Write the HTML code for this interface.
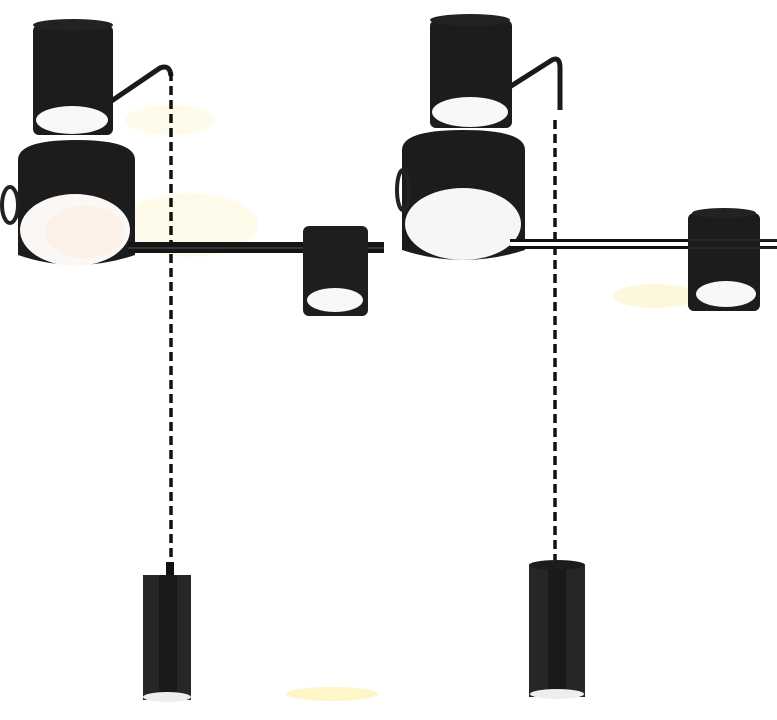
<!DOCTYPE html>
<html><head><meta charset="utf-8"><style>html,body{margin:0;padding:0;background:#fff}svg{display:block}</style></head>
<body>
<svg width="777" height="720" viewBox="0 0 777 720" xmlns="http://www.w3.org/2000/svg">
<rect width="777" height="720" fill="#fff"/>
<ellipse cx="170" cy="120" rx="45" ry="15" fill="#fffbea"/>
<ellipse cx="190" cy="225" rx="68" ry="32" fill="#fffbea"/>
<ellipse cx="332" cy="694" rx="46" ry="7" fill="#fdf7c8"/>
<ellipse cx="655" cy="296" rx="42" ry="12" fill="#fdf8dc"/>

<path d="M110 102 L160 68 Q170 64 171 76" stroke="#1a1a1a" stroke-width="5" fill="none"/>
<line x1="171" y1="72" x2="171" y2="570" stroke="#111" stroke-width="3.5" stroke-dasharray="9,5"/>
<rect x="33" y="25" width="80" height="110" rx="6" fill="#1c1c1c"/>
<ellipse cx="73" cy="25" rx="40" ry="6" fill="#222"/>
<ellipse cx="72" cy="120" rx="36" ry="14" fill="#f8f8f8"/>
<path d="M18 160 Q18 140 76 140 Q135 140 135 160 L135 255 Q76 275 18 255 Z" fill="#1c1c1c"/>
<ellipse cx="10" cy="205" rx="8" ry="18" fill="none" stroke="#222" stroke-width="4"/>
<ellipse cx="75" cy="230" rx="55" ry="36" fill="#faf7f4"/>
<ellipse cx="85" cy="232" rx="40" ry="26" fill="#fbf1e8"/>
<rect x="128" y="242" width="256" height="11" fill="#151515"/>
<line x1="128" y1="248" x2="384" y2="248" stroke="#555" stroke-width="1"/>
<rect x="303" y="226" width="65" height="90" rx="6" fill="#1e1e1e"/>
<ellipse cx="335" cy="300" rx="28" ry="12" fill="#f8f8f8"/>
<rect x="166" y="562" width="8" height="14" fill="#111"/>
<rect x="143" y="575" width="48" height="125" fill="#262626"/>
<rect x="159" y="575" width="18" height="125" fill="#1a1a1a"/>
<ellipse cx="167" cy="697" rx="24" ry="5" fill="#eee"/>

<path d="M497 95 L552 60 Q560 56 560 68 L560 110" stroke="#1a1a1a" stroke-width="5" fill="none"/>
<line x1="555" y1="120" x2="555" y2="560" stroke="#111" stroke-width="3.5" stroke-dasharray="9,5"/>
<rect x="430" y="20" width="82" height="108" rx="6" fill="#1c1c1c"/>
<ellipse cx="470" cy="20" rx="40" ry="6" fill="#222"/>
<ellipse cx="470" cy="112" rx="38" ry="15" fill="#f8f8f8"/>
<path d="M402 150 Q402 130 463 130 Q525 130 525 150 L525 250 Q463 270 402 250 Z" fill="#1c1c1c"/>
<ellipse cx="403" cy="190" rx="6" ry="20" fill="none" stroke="#222" stroke-width="4"/>
<ellipse cx="463" cy="224" rx="58" ry="36" fill="#f6f6f6"/>
<rect x="510" y="239" width="267" height="10" fill="#111"/>
<rect x="510" y="242" width="267" height="4" fill="#fff"/>
<rect x="688" y="213" width="72" height="98" rx="6" fill="#1c1c1c"/>
<ellipse cx="724" cy="213" rx="32" ry="5" fill="#222"/>
<line x1="688" y1="240" x2="777" y2="240" stroke="#333" stroke-width="1"/>
<line x1="688" y1="248" x2="777" y2="248" stroke="#333" stroke-width="1"/>
<ellipse cx="726" cy="294" rx="30" ry="13" fill="#f8f8f8"/>
<rect x="529" y="565" width="56" height="132" fill="#262626"/>
<rect x="548" y="565" width="18" height="132" fill="#1a1a1a"/>
<ellipse cx="557" cy="565" rx="28" ry="5" fill="#1c1c1c"/>
<ellipse cx="557" cy="694" rx="27" ry="5" fill="#eee"/>
</svg>
</body></html>
